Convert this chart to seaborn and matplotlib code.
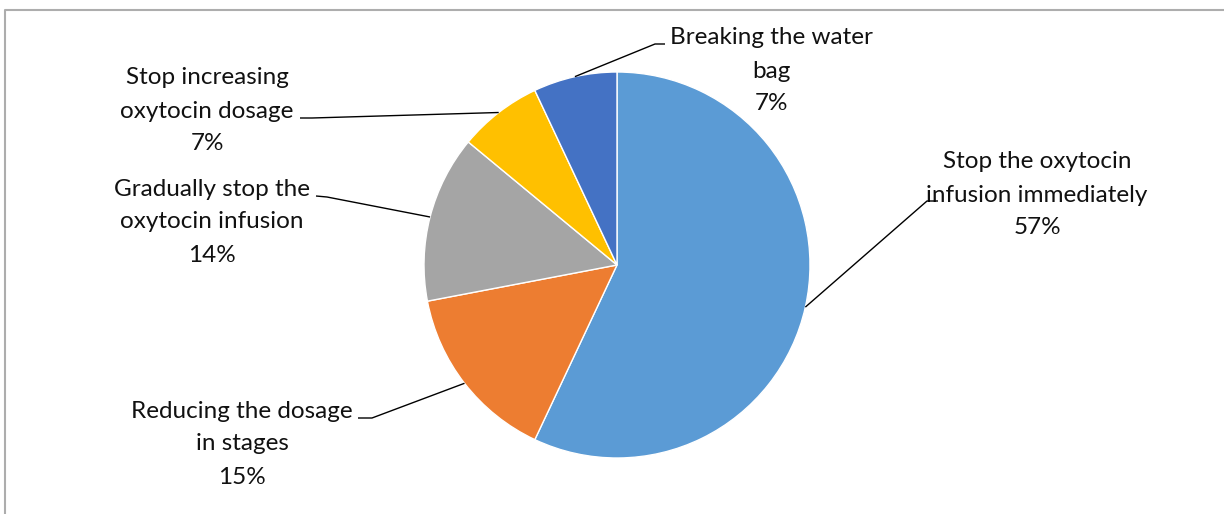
import numpy as np
import matplotlib
matplotlib.use("Agg")
import matplotlib.pyplot as plt
import seaborn as sns

# Responses on managing uterine hyperstimulation
categories = [
    "Stop the oxytocin\ninfusion immediately",
    "Reducing the dosage\nin stages",
    "Gradually stop the\noxytocin infusion",
    "Stop increasing\noxytocin dosage",
    "Breaking the water\nbag",
]
percentages = [57, 15, 14, 7, 7]
colors = ["#5B9BD5", "#ED7D31", "#A5A5A5", "#FFC000", "#4472C4"]

sns.set_theme(style="white")
plt.rcParams["font.family"] = ["Lato", "DejaVu Sans"]

W, H = 1224, 514
fig = plt.figure(figsize=(W / 100, H / 100), dpi=100)
ax = fig.add_axes([0, 0, 1, 1])


def sy(y):
    # pixel row measured from the top -> data y (upwards)
    return H - y


cx, cy, r = 617, sy(265), 193
wedges, _ = ax.pie(
    percentages, colors=colors, startangle=90, counterclock=False,
    center=(cx, cy), radius=r, frame=True,
    wedgeprops=dict(edgecolor="white", linewidth=1.0),
)
ax.set_xlim(0, W)
ax.set_ylim(0, H)
ax.set_axis_off()

# label block centre (x, first line row) and leader end / elbow points
label_pos = [(1037, 162), (242, 411), (212, 189), (207, 78), (771, 38)]
elbows = [
    ((938, 201), (927, 201)),
    ((358, 418), (372, 418)),
    ((316, 196), (327, 197)),
    ((300, 118), (312, 118)),
    ((665, 44), (655, 44)),
]

for w, cat, pct, (lx, ly), (p_end, p_elbow) in zip(
        wedges, categories, percentages, label_pos, elbows):
    mid = np.deg2rad((w.theta1 + w.theta2) / 2)
    ex = cx + r * np.cos(mid)
    ey = cy + r * np.sin(mid)
    ax.plot([p_end[0], p_elbow[0], ex], [sy(p_end[1]), sy(p_elbow[1]), ey],
            color="black", lw=1.0, solid_capstyle="butt", zorder=5)
    lines = cat.split("\n") + [f"{pct}%"]
    for i, t in enumerate(lines):
        ax.text(lx, sy(ly + 33 * i), t, ha="center", va="center",
                fontsize=17.5, color="#111111")

# chart area border
ax.plot([5, 5, W + 5], [sy(H + 5), sy(10), sy(10)], color="#ADADAD", lw=1.5,
        solid_capstyle="butt", clip_on=False)

fig.savefig("out.png", dpi=100, facecolor="white")
